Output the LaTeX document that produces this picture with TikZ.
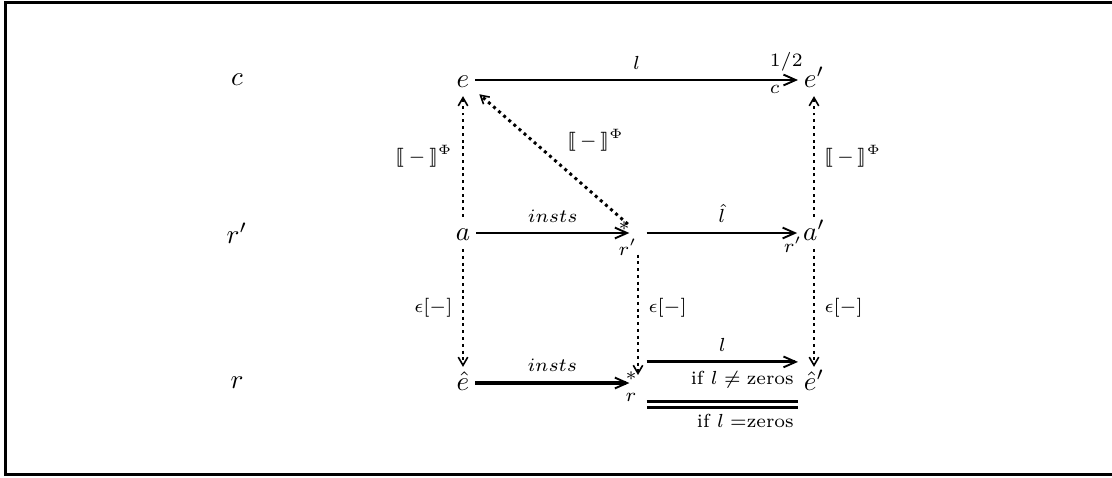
\documentclass[tikz,border=0pt]{standalone}
\usepackage{amsmath, amssymb}
\usepackage{mathtools}
\usepackage{stmaryrd}
\usetikzlibrary{arrows.meta,calc,positioning}

\tikzset{
  mor/.style={-{Straight Barb[length=4.5pt,width=4pt,line width=0.7pt]}, line width=1.1pt},
  emb/.style={-{Straight Barb[length=3pt,width=3.5pt,line width=0.6pt]}, line width=1.1pt, dash pattern=on 1.1pt off 1.4pt},
  lab/.style={font=\scriptsize},
  obj/.style={inner sep=2pt, text height=1.5ex, text depth=.25ex},
  hang/.style={obj, inner sep=3pt}
}
\newcommand{\sem}{\llbracket\, - \,\rrbracket^{\Phi}}
\newcommand{\low}[2][-3pt]{\raisebox{#1}{$\scriptstyle #2$}}

\begin{document}
\begin{tikzpicture}[x=0.013cm,y=-0.013cm]
        \useasboundingbox (0,0) rectangle (1112,477);
        %Frame
        \draw[line width=1.3pt] (1113,2.5) -- (5.5,2.5) -- (5.5,474.5) -- (1113,474.5);
        %Rows
        \node (lc) at (237,80) {$c$};
        \node (lrp) at (237,233) {$r'$};
        \node (lr) at (237,383) {$r$};
        %Objects
        \node[obj] (e) at (463,80) {$e$};
        \node[obj] (ep) at (814,80) {$\mathllap{{}^{\raisebox{4pt}{$\scriptstyle 1/2$}}_{c}}e'$};
        \node[obj] (a) at (463,233) {$a$};
        \node[hang] (sp) at (638,233) {$\mathllap{{}^{*}_{\low{r'}}}$};
        \node[obj] (ap) at (814,233) {$\mathllap{{}_{\low{r'}}}a'$};
        \node[obj] (eh) at (463,383) {$\hat{e}$};
        \node[hang] (s) at (638,383) {$\mathllap{{}^{*}_{\low[-1.5pt]{r}}}$};
        \node[obj] (ehp) at (814,383) {$\hat{e}'$};
        %Top row
        \draw[mor] (e) -- node[lab,above]{$l$} (ep);
        \draw[emb] (a) -- node[lab,left]{$\sem$} (e);
        \draw[emb,shorten <=5pt,shorten >=2pt] (sp.center) -- node[lab,above right]{$\sem$} (e);
        \draw[emb] (ap) -- node[lab,right]{$\sem$} (ep);
        %Middle row
        \draw[mor] (a) -- node[lab,above]{$insts$} (sp);
        \draw[mor] (sp) -- node[lab,above]{$\hat{l}$} (ap);
        \draw[emb] (a) -- node[lab,left]{$\epsilon[-]$} (eh);
        \draw[emb,shorten <=1pt,shorten >=-4pt] (sp) -- node[lab,right]{$\epsilon[-]$} (s);
        \draw[emb] (ap) -- node[lab,right]{$\epsilon[-]$} (ehp);
        %Bottom row
        \draw[mor,line width=1.5pt] (eh) -- node[lab,above]{$insts$} (s);
        \draw[mor] ([yshift=7.8pt]s.east) -- node[lab,above]{$l$}
          node[lab,pos=1,anchor=north east,inner sep=1pt,yshift=-2pt]{$\text{if } l \neq \text{zeros}$}
          ([yshift=7.8pt]ehp.west);
        \draw[double,line width=1.1pt,double distance=1.1pt] ([yshift=-7.8pt]s.east) --
          node[lab,pos=1,anchor=north east,inner sep=1pt,yshift=-2pt]{$\text{if } l \;{=}\text{zeros}$}
          ([yshift=-7.8pt]ehp.west);
\end{tikzpicture}
\end{document}
